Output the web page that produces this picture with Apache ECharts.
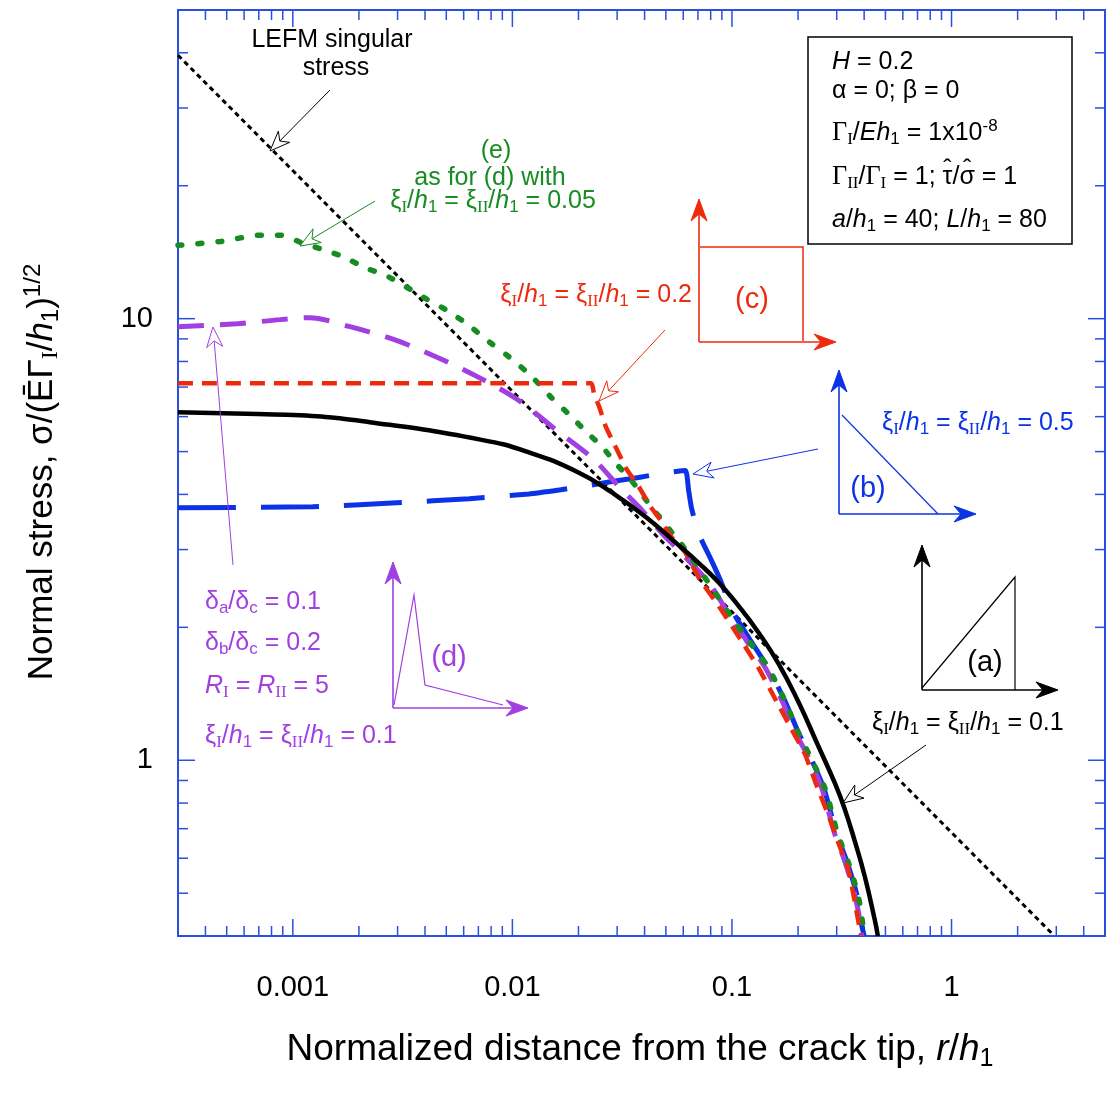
<!DOCTYPE html>
<html><head><meta charset="utf-8">
<script src="https://cdn.jsdelivr.net/npm/echarts@6/dist/echarts.min.js"></script>
<style>html,body{margin:0;padding:0;background:#fff}#c{width:1106px;height:1093px}</style>
</head><body><div id="c"></div>
<script>
const SANS = '"Liberation Sans", Arial, Helvetica, sans-serif';
const SERIF = '"Liberation Serif", "Times New Roman", serif';
const AXIS = '#2a4fe0';
const RED = '#ee2a0e', GREEN = '#168c22', PURPLE = '#a13fe0', BLUE = '#0c32e6', BLACK = '#000';

// ---------- data ----------
const xTickLabels = [0.001, 0.01, 0.1, 1];
const yTickLabels = [1, 10];
const xMajorTicks = [0.001, 0.01, 0.1, 1];
const xMinorTicks = [0.0004,0.0005,0.0006,0.0007,0.0008,0.0009,0.002,0.003,0.004,0.005,0.006,0.007,0.008,0.009,
  0.02,0.03,0.04,0.05,0.06,0.07,0.08,0.09,0.2,0.3,0.4,0.5,0.6,0.7,0.8,0.9,2,3,4];
const yMajorTicks = [1, 10];
const yMinorTicks = [0.4,0.5,0.6,0.7,0.8,0.9,2,3,4,5,6,7,8,9,20,30,40];

// LEFM singular stress (straight line, slope -1/2)
const lefmR = [0.0003, 2.9];
const lefmS = [39.5, 0.403];
// (a) xi/h1 = 0.1, black solid
const aR = [0.0003,0.00069,0.00108,0.00224,0.00706,0.0119,0.0201,0.0284,0.0404,0.0571,0.0704,0.0868,0.1069,0.1318,0.1624,0.2001,0.2467,0.2946,0.327,0.3632,0.4032,0.4475,0.4618];
const aS = [6.14,6.08,6.04,5.83,5.33,4.98,4.48,4.04,3.56,3.07,2.80,2.53,2.24,1.95,1.66,1.36,1.08,0.886,0.773,0.654,0.544,0.434,0.40];
// (b) xi/h1 = 0.5, blue
const bR = [0.0003,0.00123,0.00297,0.00636,0.0119,0.0166,0.0223,0.0284,0.0376,0.0499,0.0614,0.0634,0.0654,0.0703,0.0805,0.0885,0.1014,0.1213,0.1462,0.1746,0.200,0.229,0.2626,0.3006,0.334,0.3709,0.39,0.40];
const bS = [3.73,3.75,3.83,3.91,4.01,4.10,4.19,4.28,4.37,4.48,4.53,4.10,3.73,3.27,2.84,2.56,2.16,1.87,1.62,1.36,1.16,1.01,0.863,0.678,0.589,0.495,0.423,0.40];
// (c) xi/h1 = 0.2, red
const cR = [0.0003,0.0228,0.0236,0.0248,0.0266,0.0296,0.0332,0.0376,0.0426,0.0473,0.0531,0.0614,0.0703,0.0895,0.110,0.132,0.157,0.186,0.2155,0.239,0.274,0.304,0.338,0.363,0.386];
const cS = [7.14,7.14,6.70,6.34,5.70,5.11,4.55,4.17,3.75,3.50,3.20,2.95,2.60,2.19,1.87,1.62,1.38,1.18,1.03,0.896,0.754,0.653,0.568,0.477,0.402];
// (d) trapezoid-peak law, purple
const dR = [0.0003,0.000557,0.000873,0.00119,0.00182,0.0029,0.00451,0.00685,0.0105,0.0163,0.0235,0.0305,0.0388,0.0479,0.0571,0.0781,0.0964,0.1161,0.1418,0.1695,0.1941,0.2243,0.2569,0.2947,0.327,0.363,0.386,0.39];
const dS = [9.59,9.74,9.95,10.05,9.59,8.96,8.19,7.41,6.57,5.53,4.80,4.17,3.69,3.27,2.99,2.53,2.15,1.87,1.62,1.36,1.16,1.01,0.863,0.678,0.589,0.495,0.423,0.40];
// (e) as (d) with xi/h1 = 0.05, green
const eR = [0.0003,0.000471,0.000716,0.000883,0.00111,0.0014,0.00172,0.00212,0.0027,0.00402,0.00505,0.00636,0.00784,0.00966,0.0122,0.0150,0.0185,0.0218,0.0255,0.0296,0.0339,0.0384,0.0431,0.0488,0.0542,0.0602,0.0805,0.0993,0.1186,0.1462,0.1746,0.200,0.229,0.2654,0.304,0.338,0.375,0.395,0.40];
const eS = [14.66,14.96,15.45,15.45,14.82,14.29,13.77,13.06,12.47,11.11,10.43,9.64,8.86,8.19,7.41,6.64,6.01,5.53,5.14,4.70,4.37,4.04,3.73,3.47,3.24,3.04,2.47,2.11,1.87,1.62,1.36,1.16,1.01,0.863,0.678,0.589,0.495,0.423,0.40];

// ---------- helpers ----------
const pairs = (r, s) => r.map((v, i) => [v, s[i]]);
function near(v, arr) { return arr.find(a => Math.abs(v - a) / a < 1e-6); }
const cv = document.createElement('canvas').getContext('2d');
function tw(size, fam, s) { cv.font = size + 'px ' + fam; return cv.measureText(s).width; }

function rich(size, color) {
  const lh = Math.round(size * 1.2);
  const off = Math.round(size * 0.36);
  const small = Math.round(size * 0.68);
  const h = lh - 2 * off;
  return {
    n: {fontFamily: SANS, fontSize: size, fill: color, lineHeight: lh},
    i: {fontFamily: SANS, fontSize: size, fontStyle: 'italic', fill: color, lineHeight: lh},
    g: {fontFamily: SERIF, fontSize: size * 1.05, fill: color, lineHeight: lh},
    s: {fontFamily: SANS, fontSize: small, fill: color, lineHeight: h, verticalAlign: 'bottom'},
    r: {fontFamily: SERIF, fontSize: small, fill: color, lineHeight: h, verticalAlign: 'bottom'},
    p: {fontFamily: SANS, fontSize: small, fill: color, lineHeight: h, verticalAlign: 'top'}
  };
}
function T(x, y, text, size, color, align, rot) {
  return {
    type: 'text', x: x, y: y, rotation: rot || 0, z: 50,
    style: {text: text, rich: rich(size, color), fontFamily: SANS, fontSize: size, fill: color,
      align: align || 'center', verticalAlign: 'middle', textAlign: align || 'center', textVerticalAlign: 'middle'}
  };
}
function line(pts, color, w) {
  return {type: 'polyline', z: 40, shape: {points: pts}, style: {stroke: color, lineWidth: w || 1, fill: null}};
}
function head(x1, y1, x2, y2, color, hollow) {
  const dx = x2 - x1, dy = y2 - y1, L0 = Math.hypot(dx, dy);
  const ux = dx / L0, uy = dy / L0, vx = -uy, vy = ux;
  const L = hollow ? 20 : 22, w = 8, n = hollow ? 6 : 7;
  const pts = [[x2, y2], [x2 - L * ux + w * vx, y2 - L * uy + w * vy], [x2 - (L - n) * ux, y2 - (L - n) * uy], [x2 - L * ux - w * vx, y2 - L * uy - w * vy]];
  return {
    el: {type: 'polygon', z: 45, shape: {points: pts}, style: hollow ? {fill: '#fff', stroke: color, lineWidth: 1} : {fill: color, stroke: color, lineWidth: 1}},
    notch: pts[2]
  };
}
function arrow(x1, y1, x2, y2, color, hollow, w) {
  const h = head(x1, y1, x2, y2, color, hollow);
  return [line([[x1, y1], h.notch], color, w || 1), h.el];
}
function xi(v) { return '{n|ξ}{r|I}{n|/}{i|h}{s|1}{n| = ξ}{r|II}{n|/}{i|h}{s|1}{n| = ' + v + '}'; }

// hat positions on the tau/sigma ratio in the box
const boxX = 832;
const tauX = boxX + tw(26.25, SERIF, 'Γ') + tw(17, SERIF, 'II') + tw(25, SANS, '/') + tw(26.25, SERIF, 'Γ') + tw(17, SERIF, 'I') + tw(25, SANS, ' = 1; ');
const tauC = tauX + tw(25, SANS, 'τ') / 2;
const sigC = tauX + tw(25, SANS, 'τ/') + tw(25, SANS, 'σ') / 2;

const graphics = [].concat(
  // LEFM
  [T(332, 40, '{n|LEFM singular}', 25, BLACK), T(336, 68, '{n|stress}', 25, BLACK)],
  arrow(330, 90, 270, 151, BLACK, true),
  // (e) green
  [T(496, 151, '{n|(e)}', 25, GREEN), T(490, 178, '{n|as for (d) with}', 25, GREEN), T(493, 201, xi('0.05'), 25, GREEN)],
  arrow(375, 201, 300, 246, GREEN, true),
  // red (c)
  [T(692, 295, xi('0.2'), 25, RED, 'right'), T(752, 300, '{n|(c)}', 29, RED)],
  arrow(665, 330, 599, 401, RED, true),
  arrow(699, 342, 699, 199, RED, false, 1.6),
  arrow(699, 342, 836, 342, RED, false, 1.6),
  [line([[700, 247], [803, 247], [803, 341]], RED, 1.5)],
  // blue (b)
  [T(882, 423, xi('0.5'), 25, BLUE, 'left'), T(868, 489, '{n|(b)}', 29, BLUE)],
  arrow(818, 449, 693, 474, BLUE, true),
  arrow(839, 514, 839, 370, BLUE, false, 1.6),
  arrow(839, 514, 976, 514, BLUE, false, 1.6),
  [line([[842, 415], [938, 514]], BLUE, 1.2)],
  // black (a)
  [T(872, 723, xi('0.1'), 25, BLACK, 'left'), T(985, 663, '{n|(a)}', 29, BLACK)],
  arrow(926, 745, 843, 803, BLACK, true),
  arrow(922, 690, 922, 545, BLACK, false, 1.6),
  arrow(922, 690, 1058, 690, BLACK, false, 1.6),
  [line([[922, 688], [1015, 577], [1015, 690]], BLACK, 1.2)],
  // purple (d)
  [T(205, 602, '{n|δ}{s|a}{n|/δ}{s|c}{n| = 0.1}', 25, PURPLE, 'left'),
   T(205, 643, '{n|δ}{s|b}{n|/δ}{s|c}{n| = 0.2}', 25, PURPLE, 'left'),
   T(205, 686, '{i|R}{r|I}{n| = }{i|R}{r|II}{n| = 5}', 25, PURPLE, 'left'),
   T(205, 736, xi('0.1'), 25, PURPLE, 'left'),
   T(449, 658, '{n|(d)}', 29, PURPLE)],
  arrow(233, 565, 213, 327, PURPLE, true),
  arrow(393, 708, 393, 562, PURPLE, false, 1.6),
  arrow(393, 708, 528, 708, PURPLE, false, 1.6),
  [line([[394, 705], [414, 595], [425, 685], [503, 705]], PURPLE, 1.2)],
  // parameter box
  [{type: 'rect', z: 40, shape: {x: 808, y: 37, width: 264, height: 207}, style: {fill: '#fff', stroke: BLACK, lineWidth: 1.5}},
   T(boxX, 62, '{i|H}{n| = 0.2}', 25, BLACK, 'left'),
   T(boxX, 91, '{n|α = 0; β = 0}', 25, BLACK, 'left'),
   T(boxX, 133, '{g|Γ}{r|I}{n|/}{i|Eh}{s|1}{n| = 1x10}{p|-8}', 25, BLACK, 'left'),
   T(boxX, 177, '{g|Γ}{r|II}{n|/}{g|Γ}{r|I}{n| = 1; τ/σ = 1}', 25, BLACK, 'left'),
   T(tauC, 170, '{n|ˆ}', 25, BLACK), T(sigC, 170, '{n|ˆ}', 25, BLACK),
   T(boxX, 220, '{i|a}{n|/}{i|h}{s|1}{n| = 40; }{i|L}{n|/}{i|h}{s|1}{n| = 80}', 25, BLACK, 'left')],
  // axis titles
  [T(640, 1050, '{n|Normalized distance from the crack tip, }{i|r}{n|/}{i|h}{s|1}', 37, BLACK),
   T(42, 472, '{n|Normal stress, σ/(Ē}{n|Γ}{r|I}{n|/}{i|h}{s|1}{n|)}{p|1/2}', 35, BLACK, 'center', Math.PI / 2)]
);

const tickData = [].concat(
  xMajorTicks.map(v => [v, 1, 0]), xMinorTicks.map(v => [v, 1, 1]),
  yMajorTicks.map(v => [0.01, v, 2]), yMinorTicks.map(v => [0.01, v, 3])
);

const chart = echarts.init(document.getElementById('c'), null, {renderer: 'canvas'});
chart.setOption({
  animation: false,
  backgroundColor: '#fff',
  grid: {left: 178, right: 1, top: 10, bottom: 157, show: true, borderColor: AXIS, borderWidth: 2, backgroundColor: 'transparent'},
  xAxis: {
    type: 'log', logBase: 10, min: 0.0003, max: 5,
    axisLine: {show: false}, axisTick: {show: false}, splitLine: {show: false}, minorTick: {show: false},
    axisLabel: {show: true, margin: 37, fontSize: 29, fontFamily: SANS, color: '#000', showMinLabel: false, showMaxLabel: false,
      formatter: v => { const m = near(v, xTickLabels); return m === undefined ? '' : String(m); }}
  },
  yAxis: {
    type: 'log', logBase: 10, min: 0.4, max: 50,
    axisLine: {show: false}, axisTick: {show: false}, splitLine: {show: false},
    axisLabel: {show: true, margin: 25, fontSize: 29, fontFamily: SANS, color: '#000', showMinLabel: false, showMaxLabel: false,
      formatter: v => { const m = near(v, yTickLabels); return m === undefined ? '' : String(m); }}
  },
  series: [
    {type: 'custom', name: 'ticks', data: tickData, silent: true, z: 1,
     renderItem: function (params, api) {
       const cs = params.coordSys;
       const kind = api.value(2);
       const len = (kind === 0 || kind === 2) ? 17 : 10;
       const st = {stroke: AXIS, lineWidth: 1.5};
       if (kind < 2) {
         const x = api.coord([api.value(0), 1])[0];
         return {type: 'group', children: [
           {type: 'line', shape: {x1: x, y1: cs.y + cs.height, x2: x, y2: cs.y + cs.height - len}, style: st},
           {type: 'line', shape: {x1: x, y1: cs.y, x2: x, y2: cs.y + len}, style: st}]};
       } else {
         const y = api.coord([0.01, api.value(1)])[1];
         return {type: 'group', children: [
           {type: 'line', shape: {x1: cs.x, y1: y, x2: cs.x + len, y2: y}, style: st},
           {type: 'line', shape: {x1: cs.x + cs.width, y1: y, x2: cs.x + cs.width - len, y2: y}, style: st}]};
       }
     }},
    {type: 'line', name: 'LEFM singular stress', data: pairs(lefmR, lefmS), symbol: 'none', z: 3,
     lineStyle: {color: BLACK, width: 3, type: [5, 4]}},
    {type: 'line', name: '(b) 0.5', data: pairs(bR, bS), symbol: 'none', z: 4, smooth: 0.15,
     lineStyle: {color: BLUE, width: 5, type: [58, 25]}},
    {type: 'line', name: '(d)', data: pairs(dR, dS), symbol: 'none', z: 5, smooth: 0.3,
     lineStyle: {color: PURPLE, width: 5, type: [26, 16]}},
    {type: 'line', name: '(e)', data: pairs(eR, eS), symbol: 'none', z: 6, smooth: 0.3,
     lineStyle: {color: GREEN, width: 5.5, type: [4, 16], cap: 'round'}},
    {type: 'line', name: '(c) 0.2', data: pairs(cR, cS), symbol: 'none', z: 7, smooth: 0.15,
     lineStyle: {color: RED, width: 4.5, type: [15, 9]}},
    {type: 'line', name: '(a) 0.1', data: pairs(aR, aS), symbol: 'none', z: 8, smooth: 0.5,
     lineStyle: {color: BLACK, width: 4.5}}
  ],
  graphic: {elements: graphics}
});
</script></body></html>
